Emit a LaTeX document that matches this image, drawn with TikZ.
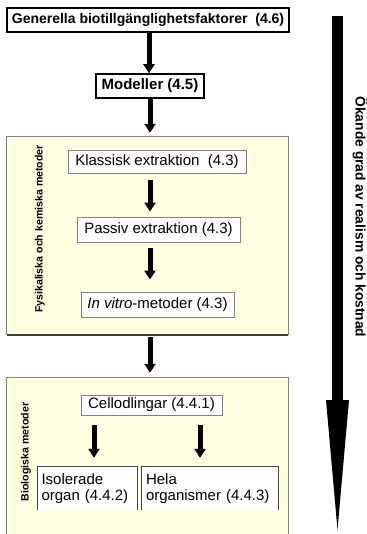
\documentclass[tikz,border=0pt]{standalone}
\usepackage{fontspec}
\setmainfont{Liberation Sans}
\usetikzlibrary{arrows.meta}
\definecolor{panelyellow}{RGB}{255,255,226}
\definecolor{boxedge}{RGB}{128,128,128}
\definecolor{paneldark}{RGB}{64,64,64}
\begin{document}
\begin{tikzpicture}[x=1pt,y=-1pt,
  arr/.style={-{Triangle[width=11pt,length=9pt]}, line width=5pt},
  panel/.style={fill=panelyellow, inner sep=0pt},
  wbox/.style={draw=boxedge, fill=white, line width=0.8pt, font=\fontsize{15}{17}\selectfont, inner sep=0pt},
  obox/.style={fill=white, font=\fontsize{15}{16}\selectfont, inner sep=0pt, align=left},
  bbox/.style={draw=black, fill=white, line width=1.5pt, font=\bfseries\fontsize{14}{16}\selectfont, inner sep=0pt},
  plabel/.style={font=\bfseries\fontsize{10.6}{12}\selectfont, rotate=90},
]
\useasboundingbox (0,0) rectangle (366,534);

% panels
\node[panel, minimum width=281pt, minimum height=198pt] (p1) at (147.5,236) {};
\draw[boxedge, line width=0.8pt] (p1.south west) -- (p1.north west) -- (p1.north east) -- (p1.south east);
\draw[paneldark, line width=2pt] (p1.south west) -- (p1.south east);
\node[panel, minimum width=281pt, minimum height=156pt] (p2) at (147.5,456) {};
\draw[boxedge, line width=0.8pt] (p2.south west) -- (p2.north west) -- (p2.north east) -- (p2.south east);

\node[plabel] (l1) at (40,229) {Fysikaliska och kemiska metoder};
\node[plabel] (l2) at (26,452) {Biologiska metoder};

% boxes
\node[bbox, minimum width=282pt, minimum height=24pt] (top) at (148,20) {Generella biotillgänglighetsfaktorer~~(4.6)};
\node[bbox, minimum width=108pt, minimum height=24pt, font=\bfseries\fontsize{15}{17}\selectfont] (mod) at (150,86) {Modeller (4.5)};
\node[wbox, minimum width=178pt, minimum height=23pt] (klass) at (157,161.5) {Klassisk extraktion~~(4.3)};
\node[wbox, minimum width=163pt, minimum height=25pt] (pass) at (158.5,229.5) {Passiv extraktion (4.3)};
\node[wbox, minimum width=153pt, minimum height=25pt] (vitro) at (157.5,304.5) {\textit{In vitro}-metoder (4.3)};
\node[wbox, minimum width=141pt, minimum height=20pt] (cell) at (151.5,405) {Cellodlingar (4.4.1)};
\node[obox, minimum width=99pt, minimum height=43pt, text width=92pt] (iso) at (87.5,488.5) {Isolerade\\organ (4.4.2)};
\draw[boxedge!50!black, line width=0.8pt] (iso.south west) -- (iso.north west) -- (iso.north east) -- (iso.south east);
\node[obox, minimum width=136pt, minimum height=43pt, text width=128pt] (hela) at (210,488.5) {Hela\\organismer (4.4.3)};
\draw[boxedge!50!black, line width=0.8pt] (hela.south west) -- (hela.north west) -- (hela.north east) -- (hela.south east);

% arrows
\coordinate (c1) at (149,0);
\coordinate (c2) at (150,0);
\coordinate (c3) at (94,0);
\coordinate (c4) at (200,0);
\draw[arr] (top.south -| c1) -- (mod.north -| c1);
\draw[arr, shorten >=4pt] (mod.south -| c2) -- (p1.north -| c2);
\draw[arr, shorten <=7pt, shorten >=5pt] (klass.south -| c2) -- (pass.north -| c2);
\draw[arr, shorten <=6pt, shorten >=12pt] (pass.south -| c2) -- (vitro.north -| c2);
\draw[arr, shorten <=2pt, shorten >=5pt] (p1.south -| c2) -- (p2.north -| c2);
\draw[arr, shorten <=10pt, shorten >=9pt] (cell.south -| c3) -- (iso.north -| c3);
\draw[arr, shorten <=10pt, shorten >=9pt] (cell.south -| c4) -- (hela.north -| c4);

% big arrow
\coordinate (rt) at (337.5,16);
\coordinate (rh) at (337.5,400);
\coordinate (rb) at (337.5,530);
\fill ([xshift=-5.5pt]rt) rectangle ([xshift=5.5pt]rh);
\fill ([xshift=-11.5pt]rh) -- ([xshift=11.5pt]rh) -- (rb) -- cycle;
\node[font=\bfseries\fontsize{13.8}{15}\selectfont, rotate=-90] (rlab) at (360,217) {Ökande grad av realism och kostnad};
\end{tikzpicture}
\end{document}
